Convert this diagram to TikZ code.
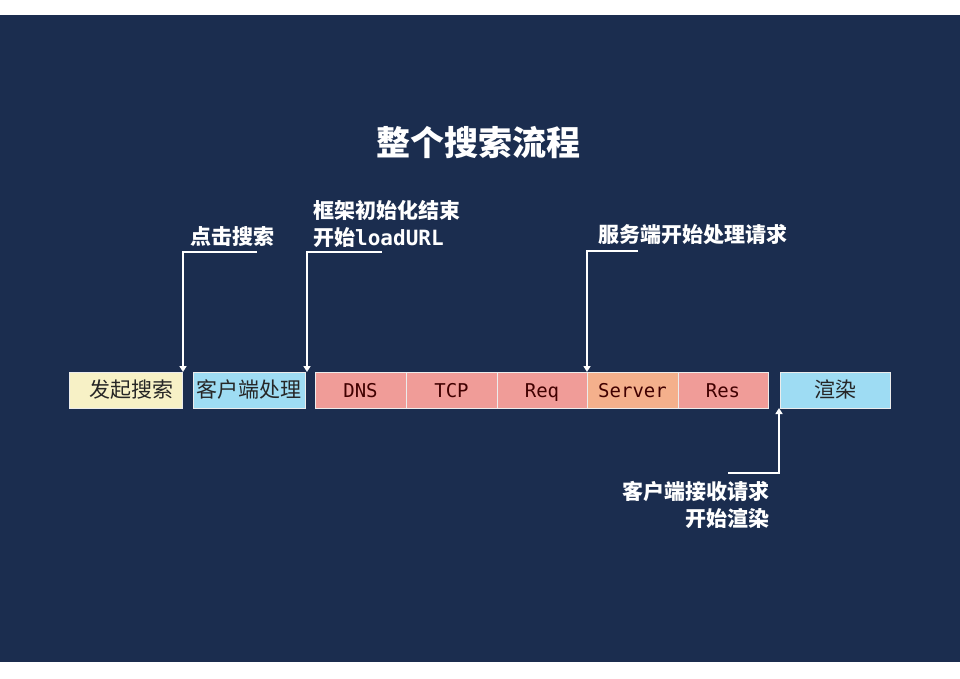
\documentclass[tikz,border=0pt]{standalone}
\usepackage{fontspec}
\setmainfont{Noto Sans CJK SC}
\newfontfamily\codefont{DejaVu Sans Mono}[BoldFont={DejaVu Sans Mono Bold}]
\usetikzlibrary{positioning,arrows.meta}

\definecolor{navy}{HTML}{1B2D4F}
\definecolor{paleyellow}{HTML}{F7F1C6}
\definecolor{skyblue}{HTML}{9EDCF3}
\definecolor{salmon}{HTML}{F09C98}
\definecolor{peach}{HTML}{F4B08C}

\tikzset{
  stage/.style={draw=white!85!gray, line width=0.8pt, minimum height=36pt, inner sep=0pt, outer sep=0pt, text height=17pt, text depth=2pt, text=black!85, font=\fontsize{21}{24}\selectfont},
  netstage/.style={stage, fill=salmon, text=red!25!black, font=\codefont\fontsize{19}{22}\selectfont},
  tag/.style={text=white, font=\bfseries\fontsize{21}{27}\selectfont, inner sep=0pt},
  pointer/.style={draw=white, line width=1.8pt, -{Triangle[width=7pt,length=6pt]}},
}

\begin{document}
\begin{tikzpicture}[x=1pt,y=-1pt]
    % Background
    \useasboundingbox (0,0) rectangle (960,679);
    \fill[white] (0,0) rectangle (960,679);
    \fill[navy] (0,15) rectangle (960,662);

    % Title
    \node[text=white, font=\bfseries\fontsize{34}{40}\selectfont] (title) at (478,143) {整个搜索流程};

    % Stages
    \node[stage, fill=paleyellow, minimum width=113pt] (search) at (125.5,390) {\hspace*{12pt}发起搜索};
    \node[stage, fill=skyblue, minimum width=112pt, right=11pt of search] (client) {客户端处理};
    \node[netstage, minimum width=91pt, right=10pt of client] (dns) {DNS};
    \node[netstage, minimum width=91pt, right=0pt of dns] (tcp) {TCP};
    \node[netstage, minimum width=90pt, right=0pt of tcp] (req) {Req};
    \node[netstage, fill=peach, minimum width=91pt, right=0pt of req] (server) {Server};
    \node[netstage, minimum width=90pt, right=0pt of server] (res) {Res};
    \node[stage, fill=skyblue, minimum width=110pt, right=12pt of res] (render) {渲染};

    % Labels
    \node[tag] (clicktxt) at (232,237) {点击搜索};
    \node[tag, anchor=west, align=left] (inittxt) at (313,224) {框架初始化结束\\开始{\codefont\bfseries loadURL}};
    \node[tag] (servertxt) at (693,235) {服务端开始处理请求};
    \node[tag, anchor=east, align=right] (rendertxt) at (770,505) {客户端接收请求\\开始渲染};

    % Pointers
    \coordinate (clickfrom) at (257,252);
    \coordinate (initfrom) at (382,252);
    \coordinate (serverfrom) at (638,251);
    \coordinate (renderfrom) at (728,473);
    \draw[pointer] (clickfrom) -| ([xshift=1pt]search.north east);
    \draw[pointer] (initfrom) -| ([xshift=2pt]client.north east);
    \draw[pointer] (serverfrom) -| (server.north west);
    \draw[pointer] (renderfrom) -| ([xshift=-1pt]render.south west);
\end{tikzpicture}
\end{document}
